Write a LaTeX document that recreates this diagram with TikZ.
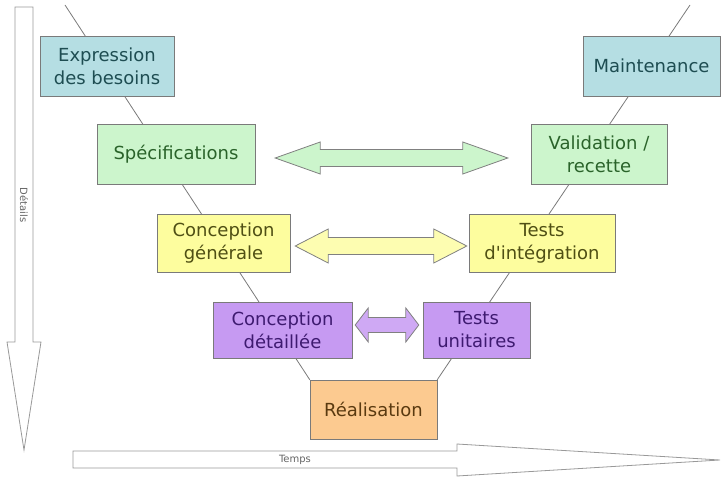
\documentclass[tikz,border=0pt]{standalone}
\usepackage{fontspec}
\setmainfont{DejaVu Sans}
\usetikzlibrary{positioning, calc, backgrounds}
\definecolor{bluefill}{HTML}{B5DEE3}
\definecolor{bluetext}{HTML}{1E4D52}
\definecolor{greenfill}{HTML}{CCF5CC}
\definecolor{greentext}{HTML}{2A632A}
\definecolor{yellowfill}{HTML}{FDFD9E}
\definecolor{yellowtext}{HTML}{4F4F14}
\definecolor{purplefill}{HTML}{C69AF2}
\definecolor{purpletext}{HTML}{3E1A70}
\definecolor{orangefill}{HTML}{FCCA90}
\definecolor{orangetext}{HTML}{5A3A10}
\definecolor{edge}{HTML}{7A7A7A}
\tikzstyle{base} = [rectangle, draw=edge, text centered, align=center, inner sep=2pt, font=\fontsize{18}{23}\selectfont]
\tikzstyle{besoin} = [base, fill=bluefill, text=bluetext]
\tikzstyle{spec} = [base, fill=greenfill, text=greentext]
\tikzstyle{gen} = [base, fill=yellowfill, text=yellowtext]
\tikzstyle{detail} = [base, fill=purplefill, text=purpletext]
\tikzstyle{code} = [base, fill=orangefill, text=orangetext]
\tikzstyle{vline} = [draw=edge, line width=0.8pt]
\tikzstyle{timebar} = [draw=black!40, fill=white, line width=0.8pt]
\tikzstyle{timelabel} = [text=black!60, font=\fontsize{10}{12}\selectfont, inner sep=0pt]
% double arrow between two tips: left, right, half shaft, half head, head length, style
\newcommand{\twoway}[6]{%
  \draw[#6] (#1) -- ++(#5,-#4) -- ++(0,{#4-#3}) -- ($(#2)+(-#5,-#3)$) -- ++(0,{-(#4-#3)})
    -- (#2) -- ++(-#5,#4) -- ++(0,{-(#4-#3)}) -- ($(#1)+(#5,#3)$) -- ++(0,{#4-#3}) -- cycle;}

\begin{document}
\begin{tikzpicture}[x=1pt, y=-1pt]
\useasboundingbox (0,0) rectangle (722,478);

% phases
\node (EXPRESSION) [besoin, minimum width=134, minimum height=60] at (107,66) {Expression\\des besoins};
\node (MAINTENANCE) [besoin, minimum width=137, minimum height=60] at (651.5,66) {Maintenance};
\node (SPECIFICATIONS) [spec, minimum width=158, minimum height=60] at (176,154) {Spécifications};
\node (VALIDATION) [spec, minimum width=136, minimum height=60] at (599,154) {Validation /\\recette};
\node (CONCEPTION_GEN) [gen, minimum width=133, minimum height=58] at (223.5,243) {Conception\\générale};
\node (TESTS_INT) [gen, minimum width=146, minimum height=58] at (542,243) {Tests\\d\textquotesingle intégration};
\node (CONCEPTION_DET) [detail, minimum width=139, minimum height=56] at (282.5,330) {Conception\\détaillée};
\node (TESTS_UNIT) [detail, minimum width=107, minimum height=56] at (476.5,330) {Tests\\unitaires};
\node (REALISATION) [code, minimum width=127, minimum height=59] at (373.5,409.5) {Réalisation};

% the V
\coordinate (V_LEFT) at (65,5);
\coordinate (V_RIGHT) at (690,5);
\begin{scope}[on background layer]
\draw [vline] (V_LEFT) -- (REALISATION.north west);
\draw [vline] (V_RIGHT) -- (REALISATION.north east);
\end{scope}

% correspondences
\coordinate (SPEC_TIP) at ($(SPECIFICATIONS.east)+(20,4)$);
\coordinate (VALID_TIP) at ($(VALIDATION.west)+(-23,4)$);
\coordinate (GEN_TIP) at ($(CONCEPTION_GEN.east)+(5,3)$);
\coordinate (INT_TIP) at ($(TESTS_INT.west)+(-2,3)$);
\coordinate (DET_TIP) at ($(CONCEPTION_DET.east)+(3,-5)$);
\coordinate (UNIT_TIP) at ($(TESTS_UNIT.west)+(-4,-5)$);
\twoway{SPEC_TIP}{VALID_TIP}{8.5}{16}{45}{draw=black!50, fill=greenfill, line width=0.8pt}
\twoway{GEN_TIP}{INT_TIP}{8.5}{17}{33}{draw=black!50, fill=yellowfill!80!white, line width=0.8pt}
\twoway{DET_TIP}{UNIT_TIP}{7.5}{17}{13}{draw=black!50, fill=purplefill!85!white, line width=0.8pt}

% axes
\draw [timebar] (15,7) -- (33,7) -- (33,342) -- (41,342) -- (24,450) -- (7,342) -- (15,342) -- cycle;
\node (DETAILS) [timelabel, rotate=-90] at (24,205) {Détails};
\draw [timebar] (73,451) -- (457,451) -- (457,444) -- (720,460) -- (457,476) -- (457,468) -- (73,468) -- cycle;
\node (TEMPS) [timelabel] at (295,459.5) {Temps};

\end{tikzpicture}
\end{document}
